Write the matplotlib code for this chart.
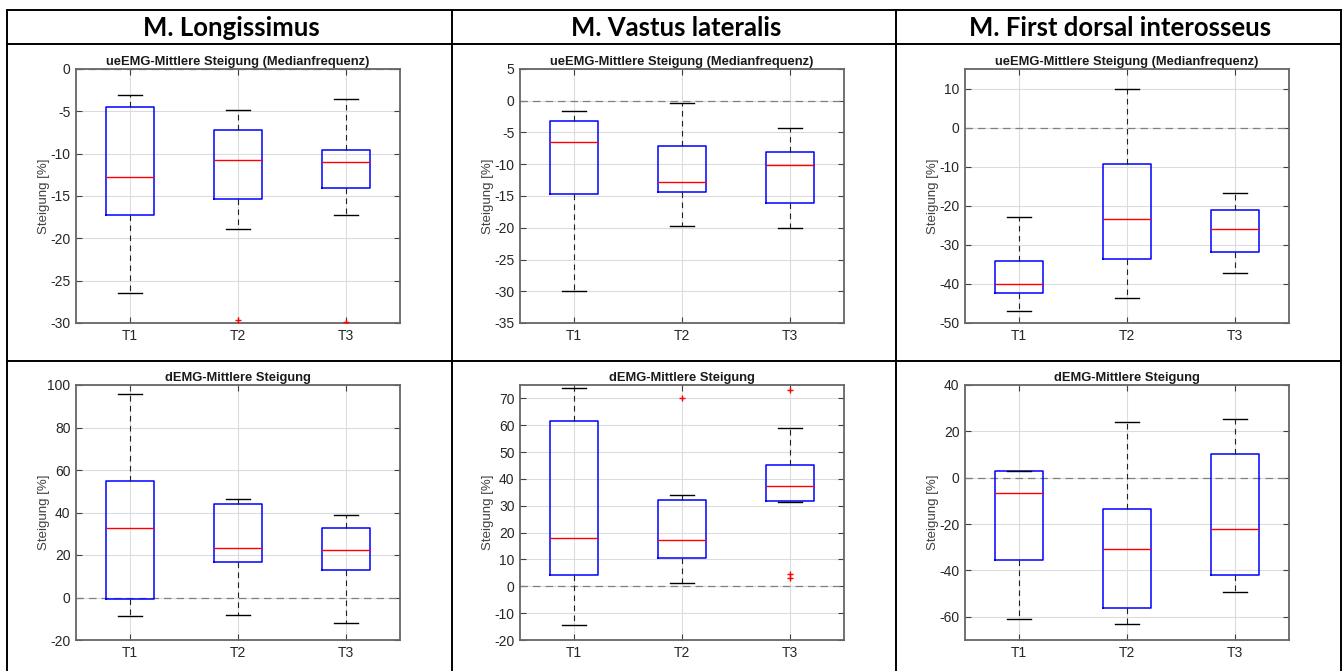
import matplotlib.pyplot as plt
import numpy as np

plt.rcParams['axes.unicode_minus'] = False

W, H = 1344, 671

muscles = ['M. Longissimus', 'M. Vastus lateralis', 'M. First dorsal interosseus']
row_titles = ['ueEMG-Mittlere Steigung (Medianfrequenz)', 'dEMG-Mittlere Steigung']
times = ['T1', 'T2', 'T3']

# box stats per time point: [whislo, q1, med, q3, whishi]
ue_longissimus = [[-26.5, -17.3, -12.7, -4.5, -3.1],
                  [-18.9, -15.3, -10.8, -7.2, -4.8],
                  [-17.3, -14.1, -11.0, -9.6, -3.6]]
ue_vastus = [[-30.0, -14.7, -6.5, -3.2, -1.6],
             [-19.7, -14.4, -12.8, -7.2, -0.4],
             [-20.0, -16.1, -10.1, -8.1, -4.3]]
ue_fdi = [[-47.0, -42.4, -40.0, -34.2, -22.8],
          [-43.5, -33.5, -23.3, -9.4, 9.9],
          [-37.2, -31.9, -25.9, -21.1, -16.8]]
d_longissimus = [[-8.8, -0.7, 32.7, 54.7, 95.7],
                 [-8.2, 16.5, 23.4, 44.0, 46.2],
                 [-12.1, 12.9, 22.3, 32.7, 38.8]]
d_vastus = [[-14.3, 4.2, 18.0, 61.7, 73.9],
            [1.1, 10.7, 17.2, 32.1, 34.0],
            [31.5, 31.6, 37.3, 45.3, 59.0]]
d_fdi = [[-61.0, -35.5, -6.6, 2.8, 2.8],
         [-63.0, -56.3, -30.7, -13.3, 24.0],
         [-49.5, -41.8, -22.0, 10.1, 25.2]]

# outliers per time point
ue_longissimus_out = [[], [-29.6], [-29.9]]
ue_vastus_out = [[], [], []]
ue_fdi_out = [[], [], []]
d_longissimus_out = [[], [], []]
d_vastus_out = [[], [70.3], [73.0, 4.6, 3.1]]
d_fdi_out = [[], [], []]

panels = [
    (ue_longissimus, ue_longissimus_out, (-30, 0), np.arange(-30, 1, 5)),
    (ue_vastus, ue_vastus_out, (-35, 5), np.arange(-35, 6, 5)),
    (ue_fdi, ue_fdi_out, (-50, 15), np.arange(-50, 11, 10)),
    (d_longissimus, d_longissimus_out, (-20, 100), np.arange(-20, 101, 20)),
    (d_vastus, d_vastus_out, (-20, 75), np.arange(-20, 71, 10)),
    (d_fdi, d_fdi_out, (-70, 40), np.arange(-60, 41, 20)),
]

fig = plt.figure(figsize=(W / 100, H / 100), dpi=100)

# table frame drawn in pixel coordinates
bg = fig.add_axes([0, 0, 1, 1], zorder=-1)
bg.set_xlim(0, W)
bg.set_ylim(H, 0)
bg.axis('off')
lw_tab = 1.4
for x in [7, 452, 896, 1341]:
    bg.plot([x, x], [10, H], color='black', lw=lw_tab)
for y in [10, 44, 361]:
    bg.plot([7, 1341], [y, y], color='black', lw=lw_tab)
for i, name in enumerate(muscles):
    cx = [231, 676, 1120][i]
    bg.text(cx, 28, name, ha='center', va='center', fontsize=18.5,
            fontweight='bold', family='Lato')

lefts = [76, 520, 965]
tops = [69, 385]
bottoms = [323, 640]
aw = 324

for k, (stats_vals, outs, ylim, yticks) in enumerate(panels):
    r, c = divmod(k, 3)
    ax = fig.add_axes([lefts[c] / W, 1 - bottoms[r] / H, aw / W,
                       (bottoms[r] - tops[r]) / H])
    stats = []
    for j, v in enumerate(stats_vals):
        stats.append(dict(whislo=v[0], q1=v[1], med=v[2], q3=v[3],
                          whishi=v[4], fliers=outs[j], label=times[j]))
    ax.axhline(0, color='#808080', lw=0.9, ls=(0, (6, 4)), zorder=1)
    ax.bxp(stats, positions=[1, 2, 3], widths=0.45, capwidths=0.22,
           boxprops=dict(color='#0000ff', lw=1.1),
           medianprops=dict(color='#ff0000', lw=1.0),
           whiskerprops=dict(color='#222222', lw=0.8, ls=(0, (5, 4))),
           capprops=dict(color='black', lw=1.0),
           flierprops=dict(marker='+', markeredgecolor='#ff0000',
                           markersize=5, markeredgewidth=1.0, ls='none'),
           manage_ticks=False, zorder=3)
    ax.set_xlim(0.5, 3.5)
    ax.set_ylim(*ylim)
    ax.set_xticks([1, 2, 3])
    ax.set_xticklabels(times)
    ax.set_yticks(yticks)
    ax.grid(True, color='#dcdcdc', lw=0.8)
    ax.set_axisbelow(True)
    ax.tick_params(direction='in', length=4, width=0.8, top=True, right=True,
                   labelsize=10, labelcolor='#262626', color='#404040', pad=4)
    for sp in ax.spines.values():
        sp.set_color('#666666')
        sp.set_linewidth(1.3)
    for lab in ax.get_xticklabels() + ax.get_yticklabels():
        lab.set_family('Liberation Sans')
    ax.set_title(row_titles[r], fontsize=9.3, fontweight='bold',
                 family='Liberation Sans', color='#1a1a1a', pad=3)
    ax.set_ylabel('Steigung [%]', fontsize=9.5, family='Liberation Sans',
                  color='#404040', va='center')
    ax.yaxis.set_label_coords(-0.10, 0.5)

fig.savefig('out.png', dpi=100)
